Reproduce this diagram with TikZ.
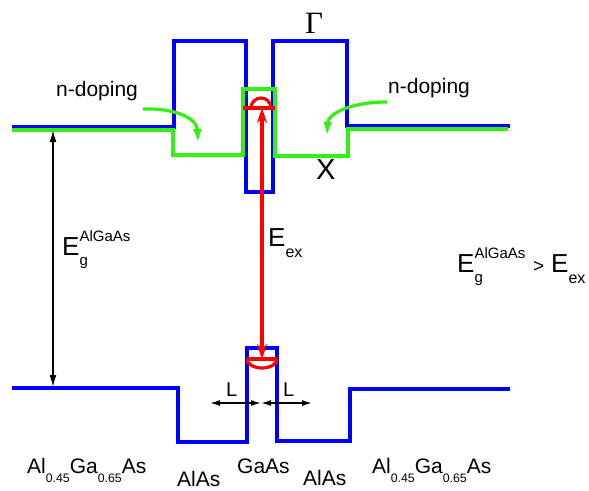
\documentclass[tikz,border=0pt]{standalone}
\usepackage{fontspec}
\setmainfont{Liberation Sans}
\newfontfamily\gammafont{Liberation Serif}
\usetikzlibrary{arrows.meta}
\definecolor{bandblue}{RGB}{0,0,255}
\definecolor{bandgreen}{RGB}{51,240,20}
\definecolor{bandred}{RGB}{255,0,0}
\newcommand{\fsz}[1]{\fontsize{#1}{#1}\selectfont}
\newcommand{\alga}{\fsz{21}Al\raisebox{-9pt}{\fsz{12.3}0.45}Ga\raisebox{-9pt}{\fsz{12.3}0.65}As}
\newcommand{\egap}{\fsz{26}E\fsz{15}\makebox[0pt][l]{\raisebox{-10pt}{g}}\raisebox{14pt}{AlGaAs}}
\newcommand{\eex}{\fsz{26}E\raisebox{-11pt}{\fsz{16}ex}}
\begin{document}
\begin{tikzpicture}[x=1pt,y=-1pt,
  band/.style={draw=bandblue,line width=3.2pt,line join=miter},
  xband/.style={draw=bandgreen,line width=3.2pt,line join=miter},
  redline/.style={draw=bandred,line width=3.2pt},
  blk/.style={draw=black,line width=1.5pt},
  dopearrow/.style={draw=bandgreen,line width=3.2pt,-{Latex[length=14pt,width=9pt]}},
  lbl/.style={inner sep=0pt,anchor=base west}]
\useasboundingbox (0,0) rectangle (589,490);
% conduction band (Gamma)
\draw[band] (12,127) -- (174,127) -- (174,41) -- (246,41) -- (246,192) -- (273,192)
  -- (273,41) -- (347,41) -- (347,126) -- (510,126);
% X band
\draw[xband] (12,130) -- (173,130) -- (173,155) -- (243,155) -- (243,89) -- (275,89)
  -- (275,156) -- (348,156) -- (348,129) -- (508,129);
% valence band
\draw[band] (12,388) -- (178,388) -- (178,442) -- (247,442) -- (247,348) -- (277,348)
  -- (277,441) -- (350,441) -- (350,389) -- (510,389);
% exciton levels
\coordinate (etop) at (262,108);
\coordinate (ebot) at (262,359);
\draw[redline] (243,108) -- (275,108);
\draw[redline] (251,108) arc[start angle=180,end angle=0,radius=10pt];
\draw[redline] (247,359) -- (277,359);
\draw[redline] (247,359) arc[start angle=180,end angle=360,x radius=15pt,y radius=9pt];
\draw[redline,{Stealth[length=15pt,width=10pt]}-{Stealth[length=15pt,width=10pt]}] (etop) -- (ebot);
% band gap arrow
\coordinate (gtop) at (53,130);
\coordinate (gbot) at (53,387);
\draw[blk,{Latex[length=12pt,width=7pt]}-{Latex[length=12pt,width=7pt]}] (gtop) -- (gbot);
% L arrows
\coordinate (la) at (210,403);
\coordinate (lm) at (261,403);
\coordinate (lb) at (312,403);
\draw[blk,{Latex[length=10pt,width=6pt]}-{Latex[length=10pt,width=6pt]}] (la) -- (lm);
\draw[blk,{Latex[length=10pt,width=6pt]}-{Latex[length=10pt,width=6pt]}] (lm) -- (lb);
\node[lbl] (l1) at (226,396) {\fsz{20}L};
\node[lbl] (l2) at (283,396) {\fsz{20}L};
% doping arrows
\node[lbl] (nd1) at (56,96) {\fsz{21}n-doping};
\node[lbl] (nd2) at (388,93) {\fsz{21}n-doping};
\coordinate (d1s) at (143,109);
\coordinate (d1e) at (198,143);
\coordinate (d2s) at (387,102);
\coordinate (d2e) at (327,136);
\draw[dopearrow] (d1s) .. controls (175,108) and (197,118) .. (d1e);
\draw[dopearrow] (d2s) .. controls (352,102) and (328,113) .. (d2e);
% labels
\node[lbl] (gam) at (305,33) {\gammafont\fsz{31}Γ};
\node[lbl] (xl) at (316,179) {\fsz{29}X};
\node[lbl] (eg1) at (62,255) {\egap};
\node[lbl] (ex1) at (268,246) {\eex};
\node[lbl] (eg2) at (457,272) {\egap};
\node[lbl] (gt) at (533,272) {\fsz{19}>};
\node[lbl] (ex2) at (551,272) {\eex};
% layer names
\node[lbl] (m1) at (27,473) {\alga};
\node[lbl] (m2) at (177,486) {\fsz{21}AlAs};
\node[lbl] (m3) at (237,473) {\fsz{21}GaAs};
\node[lbl] (m4) at (303,485) {\fsz{21}AlAs};
\node[lbl] (m5) at (372,473) {\alga};
\end{tikzpicture}
\end{document}
